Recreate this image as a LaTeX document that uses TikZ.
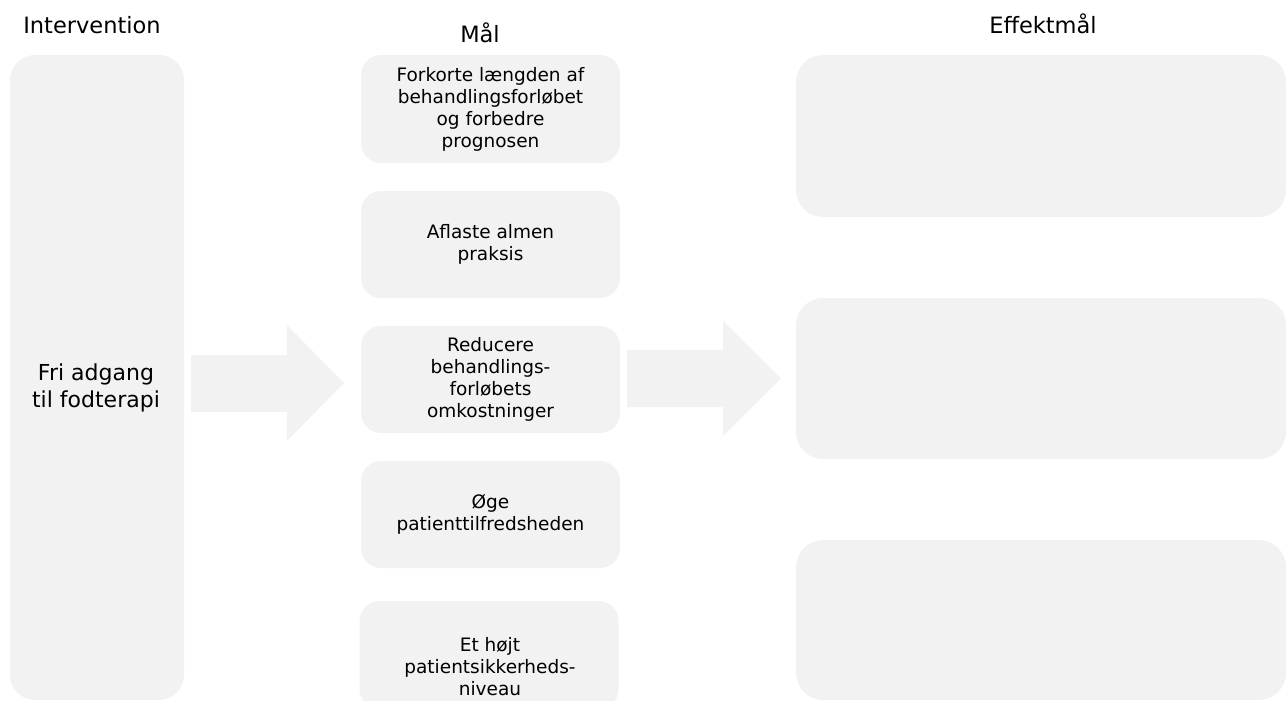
\documentclass[tikz,border=0pt]{standalone}
\usepackage{fontspec}
\setmainfont{DejaVu Sans}
\definecolor{boxgray}{RGB}{242,242,242}
\tikzset{
  panel/.style={fill=boxgray, draw=none, inner sep=0pt, align=center, text=black},
  header/.style={anchor=base, inner sep=0pt, font=\fontsize{22.5}{27}\selectfont},
  goaltext/.style={align=center, inner sep=0pt, font=\fontsize{18.5}{22}\selectfont},
  blockarrow/.style={fill=boxgray, draw=none}
}
\begin{document}
\begin{tikzpicture}[x=1pt,y=-1pt]
\useasboundingbox (0,0) rectangle (1287,701);
% headers
\node[header] (hint) at (92,34) {Intervention};
\node[header] (hmaal) at (480,43) {Mål};
\node[header] (heff) at (1043,34) {Effektmål};
% left box
\node[panel, rounded corners=25pt, minimum width=174pt, minimum height=645pt] (interv) at (97,377.5) {};
\node[goaltext, font=\fontsize{22}{27}\selectfont] (intervtxt) at (96,388) {Fri adgang\\til fodterapi};
% middle boxes
\node[panel, rounded corners=20pt, minimum width=259pt, minimum height=108pt] (g1) at (490.5,109) {};
\node[goaltext] at (g1.center) {Forkorte længden af\\behandlingsforløbet\\og forbedre\\prognosen};
\node[panel, rounded corners=20pt, minimum width=259pt, minimum height=107pt] (g2) at (490.5,244.5) {};
\node[goaltext] at (g2.center) {Aflaste almen\\praksis};
\node[panel, rounded corners=20pt, minimum width=259pt, minimum height=107pt] (g3) at (490.5,379.5) {};
\node[goaltext] at (g3.center) {Reducere\\behandlings-\\forløbets\\omkostninger};
\node[panel, rounded corners=20pt, minimum width=259pt, minimum height=107pt] (g4) at (490.5,514.5) {};
\node[goaltext] at (g4.center) {Øge\\patienttilfredsheden};
\node[panel, rounded corners=20pt, minimum width=259pt, minimum height=108pt] (g5) at (489,655) {};
\node[goaltext] (g5txt) at (490,667) {Et højt\\patientsikkerheds-\\niveau};
% right boxes
\node[panel, rounded corners=27pt, minimum width=490pt, minimum height=162pt] (e1) at (1041,136) {};
\node[panel, rounded corners=27pt, minimum width=490pt, minimum height=161pt] (e2) at (1041,378.5) {};
\node[panel, rounded corners=27pt, minimum width=490pt, minimum height=160pt] (e3) at (1041,620) {};
% block arrows
\fill[blockarrow] (191,355) -- (287,355) -- (287,325) -- (344,383) -- (287,441) -- (287,412) -- (191,412) -- cycle;
\fill[blockarrow] (627,350) -- (723,350) -- (723,321) -- (781,378.5) -- (723,436) -- (723,407) -- (627,407) -- cycle;
\end{tikzpicture}
\end{document}
